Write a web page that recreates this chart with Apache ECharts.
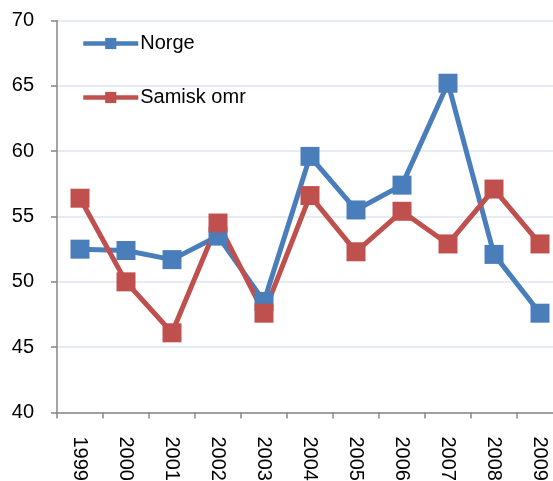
<!DOCTYPE html>
<html lang="no">
<head>
    <meta charset="UTF-8">
    <title>Norge / Samisk omr</title>
    <script src="https://cdn.jsdelivr.net/npm/echarts@6/dist/echarts.min.js"></script>
    <style>
        html, body { margin: 0; padding: 0; background: #fff; overflow: hidden; }
        /* plot area runs past the right edge in the original, so the canvas is a bit wider than the window */
        #chart { width: 563px; height: 481px; }
    </style>
</head>
<body>
    <div id="chart"></div>
    <script>
        // data
        const years = ['1999', '2000', '2001', '2002', '2003', '2004', '2005', '2006', '2007', '2008', '2009'];
        const norge = [52.5, 52.4, 51.7, 53.5, 48.5, 59.6, 55.5, 57.4, 65.2, 52.1, 47.6];
        const samisk = [56.4, 50.0, 46.1, 54.5, 47.6, 56.6, 52.3, 55.4, 52.9, 57.1, 52.9];

        const font = 'Liberation Sans, Arial, sans-serif';

        function lineSeries(name, data, color) {
            return {
                name: name,
                type: 'line',
                data: data,
                symbol: 'rect',
                symbolSize: 19,
                lineStyle: { width: 5, color: color },
                itemStyle: { color: color },
                emphasis: { disabled: true }
            };
        }

        const chart = echarts.init(document.getElementById('chart'));
        chart.setOption({
            animation: false,
            grid: { left: 57, top: 20.5, right: 0, height: 392, containLabel: false, outerBoundsMode: 'none' },
            legend: {
                orient: 'vertical',
                left: 81,
                top: 33.5,
                padding: 0,
                itemWidth: 55,
                itemHeight: 14,
                itemGap: 34,
                lineStyle: { width: 4.5 },
                textStyle: { fontFamily: font, fontSize: 20, color: '#000', padding: [0, 0, 0, -3] },
                data: ['Norge', 'Samisk omr']
            },
            xAxis: {
                type: 'category',
                data: years,
                boundaryGap: true,
                axisLine: { lineStyle: { color: '#868686', width: 1.5 } },
                axisTick: { show: true, length: 6, lineStyle: { color: '#868686', width: 1.5 } },
                axisLabel: {
                    rotate: -90,
                    margin: 24,
                    fontFamily: font,
                    fontSize: 20,
                    color: '#000'
                },
                splitLine: { show: false }
            },
            yAxis: {
                type: 'value',
                min: 40,
                max: 70,
                interval: 5,
                axisLine: { show: true, lineStyle: { color: '#868686', width: 1.5 } },
                axisTick: { show: true, length: 6, lineStyle: { color: '#868686', width: 1.5 } },
                axisLabel: { margin: 23, fontFamily: font, fontSize: 20, color: '#000' },
                splitLine: { lineStyle: { color: '#dce6f2', width: 1.5 } }
            },
            series: [
                lineSeries('Norge', norge, '#4a7ebb'),
                lineSeries('Samisk omr', samisk, '#c0504d')
            ]
        });
    </script>
</body>
</html>
